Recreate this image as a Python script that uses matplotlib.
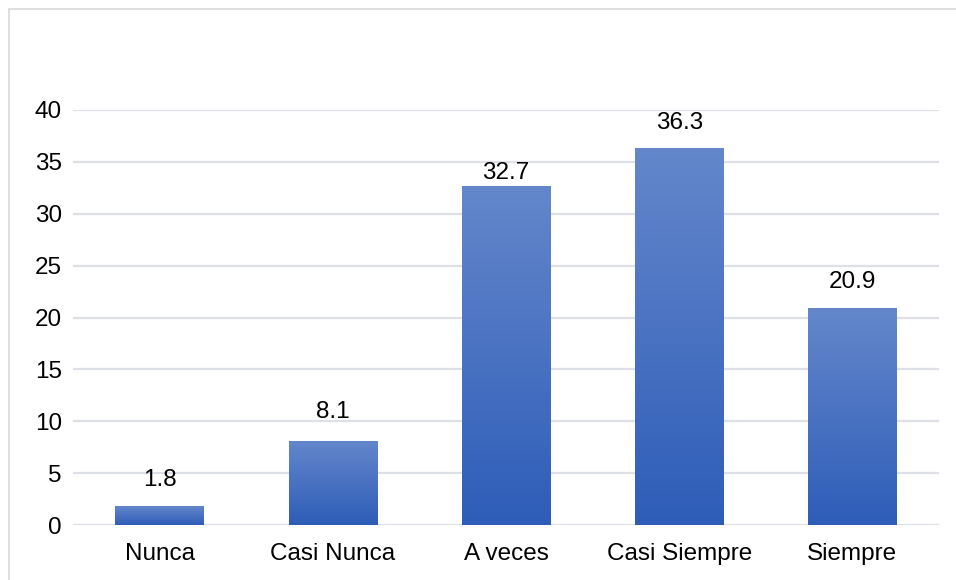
import numpy as np
import matplotlib
matplotlib.use("Agg")
import matplotlib.pyplot as plt
from matplotlib.colors import LinearSegmentedColormap
from matplotlib.patches import Rectangle

categories = ["Nunca", "Casi Nunca", "A veces", "Casi Siempre", "Siempre"]
values = [1.8, 8.1, 32.7, 36.3, 20.9]
yticks = [0, 5, 10, 15, 20, 25, 30, 35, 40]

plt.rcParams['font.family'] = ['Liberation Sans', 'DejaVu Sans']

W, H = 956, 580
fig = plt.figure(figsize=(W/100, H/100), dpi=100)
ax = fig.add_axes([73/W, 1-525/H, (939-73)/W, (525-110)/H])

x = np.arange(len(categories))
bars = ax.bar(x, values, width=0.51, color='none', zorder=3)

cmap = LinearSegmentedColormap.from_list("g", ["#2e5db8", "#6487cb"])
grad = np.linspace(0, 1, 256).reshape(-1, 1)
for b in bars:
    x0, y0 = b.get_x(), b.get_y()
    w, h = b.get_width(), b.get_height()
    im = ax.imshow(grad, cmap=cmap, origin='lower', aspect='auto',
                   extent=[x0, x0 + w, y0, y0 + h], zorder=3)
    im.set_clip_path(b)

label_offsets = [11, 13, 1, 10, 11]  # points above bar top (layout only)
for xi, v, off in zip(x, values, label_offsets):
    ax.annotate(f"{v}", (xi, v), xytext=(0, off), textcoords='offset points',
                ha='center', va='bottom', fontsize=17.5, color='#000000', zorder=4)

ax.set_xlim(-0.5, len(categories) - 0.5)
ax.set_ylim(0, 40)
ax.set_yticks(yticks)
ax.set_yticklabels([str(t) for t in yticks], fontsize=17.5)
ax.set_xticks(x)
ax.set_xticklabels(categories, fontsize=17.5)
ax.tick_params(axis='both', length=0, colors='#000000')
ax.tick_params(axis='y', pad=8)
ax.tick_params(axis='x', pad=13)
ax.grid(axis='y', color='#dde1e7', linewidth=1.6, zorder=0)
ax.set_axisbelow(True)
for s in ax.spines.values():
    s.set_visible(False)

# figure frame
fig.patches.append(Rectangle((8.5/W, -0.1), 1.2, 1.1 - 8.5/H, transform=fig.transFigure,
                             fill=False, edgecolor='#d9d9d9', linewidth=1.2))

fig.savefig("out.png", dpi=100)
